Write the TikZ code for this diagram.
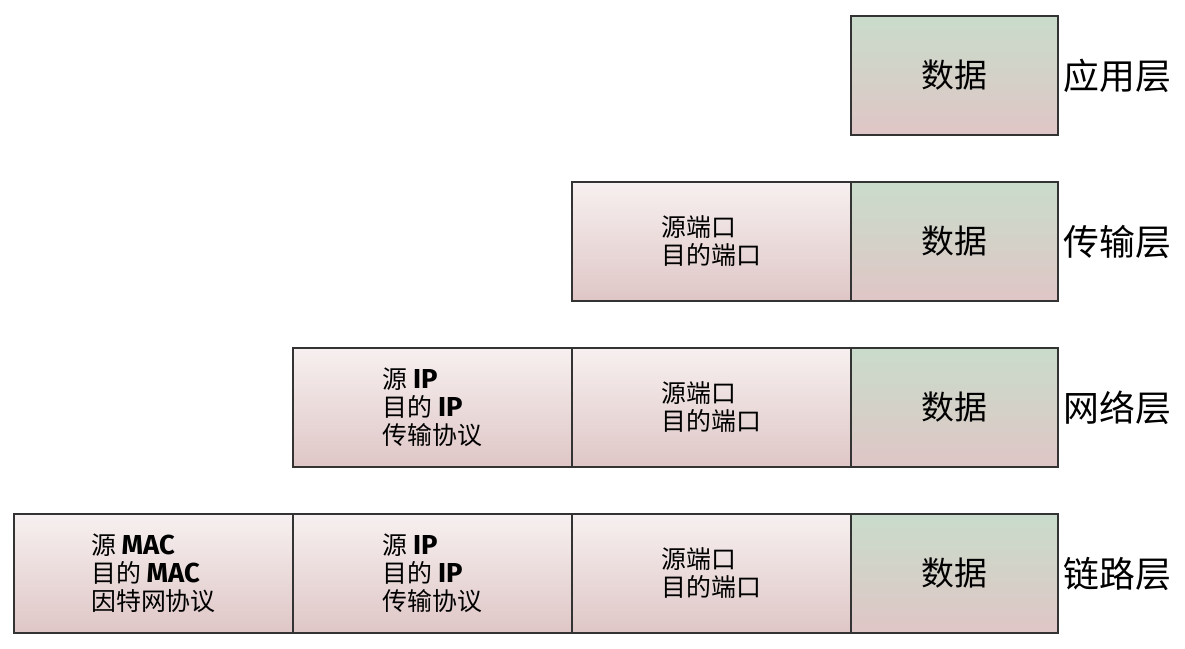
\documentclass[tikz,border=0pt]{standalone}
\usepackage{fontspec}
\setmainfont{Noto Sans CJK SC}
\newfontfamily\latfont{Fira Sans}[Scale=1.1]
\usetikzlibrary{positioning}
\definecolor{hdtop}{HTML}{F7F0F0}
\definecolor{hdbot}{HTML}{DFC6C6}
\definecolor{datop}{HTML}{C9DCCB}
\definecolor{edgegray}{HTML}{333333}
\newcommand{\en}[1]{{\latfont\bfseries #1}}

\begin{document}
\begin{tikzpicture}[x=1bp,y=-1bp,
    box/.style={draw=edgegray,line width=1.5bp,minimum height=119bp,inner sep=0pt,outer sep=0pt},
    hdr/.style={box,minimum width=279bp,top color=hdtop,bottom color=hdbot,align=left,font=\fontsize{25}{28}\selectfont},
    dat/.style={box,minimum width=207bp,top color=datop,bottom color=hdbot,font=\fontsize{33}{36}\selectfont},
    lay/.style={anchor=west,font=\fontsize{36}{40}\selectfont}]
    \useasboundingbox (0,0) rectangle (1185,649);
    % application layer
    \node[dat] (d1) at (954.5,75.5) {数据};
    \node[lay] (l1) at (1060,75.5) {应用层};
    % transport layer
    \node[dat] (d2) at (954.5,241.5) {数据};
    \node[hdr,left=0pt of d2] (t2) {源端口\\目的端口};
    \node[lay] (l2) at (1060,241.5) {传输层};
    % network layer
    \node[dat] (d3) at (954.5,407.5) {数据};
    \node[hdr,left=0pt of d3] (t3) {源端口\\目的端口};
    \node[hdr,left=0pt of t3] (n3) {源 \en{IP}\\目的 \en{IP}\\传输协议};
    \node[lay] (l3) at (1060,407.5) {网络层};
    % link layer
    \node[dat] (d4) at (954.5,573.5) {数据};
    \node[hdr,left=0pt of d4] (t4) {源端口\\目的端口};
    \node[hdr,left=0pt of t4] (n4) {源 \en{IP}\\目的 \en{IP}\\传输协议};
    \node[hdr,left=0pt of n4] (m4) {源 \en{MAC}\\目的 \en{MAC}\\因特网协议};
    \node[lay] (l4) at (1060,573.5) {链路层};
\end{tikzpicture}
\end{document}
